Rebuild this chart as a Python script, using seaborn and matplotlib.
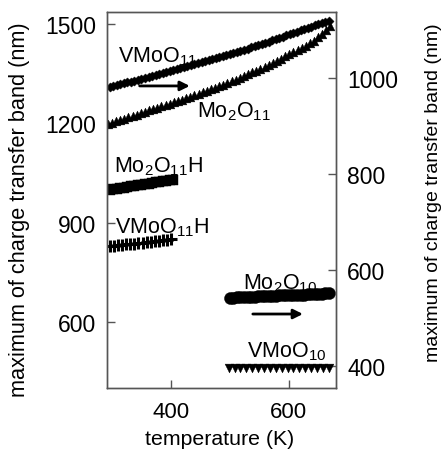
import matplotlib
matplotlib.use("Agg")
import matplotlib.pyplot as plt
import seaborn as sns

sns.set_style("ticks")
plt.rcParams['font.family'] = ['Liberation Sans', 'DejaVu Sans']
plt.rcParams['mathtext.fontset'] = 'custom'
plt.rcParams['mathtext.rm'] = 'Liberation Sans'
plt.rcParams['mathtext.it'] = 'Liberation Sans'
plt.rcParams['text.color'] = 'black'

# VMoO11 (diamonds, left axis)
vmoo11_t = [296, 302, 308, 314, 320, 326, 332, 338, 344, 350, 356, 362, 368, 374, 380, 386,
            392, 398, 404, 410, 416, 422, 428, 434, 440, 446, 452, 458, 464, 470, 476, 482,
            488, 494, 500, 506, 512, 518, 524, 530, 536, 542, 548, 554, 560, 566, 572, 578,
            584, 590, 596, 602, 608, 614, 620, 626, 632, 638, 644, 650, 656, 662, 668]
vmoo11_nm = [1310, 1313, 1315, 1318, 1321, 1324, 1326, 1329, 1332, 1335, 1338, 1341, 1344, 1346, 1349, 1352,
             1355, 1358, 1361, 1364, 1367, 1370, 1373, 1376, 1379, 1382, 1385, 1388, 1391, 1394, 1397, 1400,
             1403, 1406, 1409, 1413, 1416, 1419, 1423, 1426, 1430, 1433, 1437, 1440, 1444, 1447, 1451, 1455,
             1458, 1462, 1466, 1469, 1473, 1477, 1481, 1484, 1488, 1492, 1496, 1499, 1503, 1507, 1510]

# Mo2O11 (up triangles, left axis)
mo2o11_t = [293, 300, 307, 314, 321, 328, 335, 342, 349, 356, 363, 370, 377, 384, 391, 398,
            405, 412, 419, 426, 433, 440, 447, 454, 461, 468, 475, 482, 489, 496, 503, 510,
            517, 524, 531, 538, 545, 552, 559, 566, 573, 580, 587, 594, 601, 608, 615, 622,
            629, 636, 643, 650, 657, 664, 670]
mo2o11_nm = [1198, 1202, 1206, 1210, 1214, 1218, 1222, 1226, 1230, 1234, 1239, 1243, 1247, 1251, 1255, 1259,
             1264, 1268, 1272, 1277, 1281, 1285, 1290, 1294, 1299, 1303, 1308, 1312, 1317, 1322, 1327, 1332,
             1337, 1343, 1348, 1354, 1359, 1365, 1371, 1377, 1383, 1389, 1395, 1402, 1408, 1415, 1421, 1428,
             1435, 1442, 1450, 1460, 1471, 1483, 1495]

# Mo2O11H (squares, left axis)
mo2o11h_t = [296, 302, 308, 314, 320, 326, 332, 338, 344, 350, 356, 362, 368, 374, 380, 386, 392, 398, 404]
mo2o11h_nm = [999, 1001, 1003, 1004, 1006, 1008, 1010, 1011, 1013, 1015, 1016, 1018, 1020, 1022, 1023, 1025,
              1027, 1028, 1030]

# VMoO11H (plus, left axis)
vmoo11h_t = [296, 303, 310, 317, 324, 331, 338, 345, 352, 359, 366, 373, 380, 387, 394, 401]
vmoo11h_nm = [829, 830, 832, 833, 834, 836, 837, 839, 840, 841, 843, 844, 846, 847, 848, 850]

# Mo2O10 (circles, right axis)
mo2o10_t = [500, 506, 512, 518, 524, 530, 536, 542, 548, 554, 560, 566, 572, 578, 584, 590,
            596, 602, 608, 614, 620, 626, 632, 638, 644, 650, 656, 662, 668]
mo2o10_nm = [542, 542, 543, 543, 543, 544, 544, 544, 545, 545, 545, 546, 546, 546, 547, 547,
             548, 548, 548, 549, 549, 549, 550, 550, 550, 551, 551, 552, 552]

# VMoO10 (down triangles, right axis)
vmoo10_t = [498, 508, 518, 528, 538, 548, 558, 568, 578, 588, 598, 608, 618, 628, 638, 648, 658, 668]
vmoo10_nm = [396, 396, 396, 396, 396, 396, 396, 396, 396, 396, 396, 396, 396, 397, 397, 397, 397, 397]

fig = plt.figure(figsize=(4.42, 4.52), dpi=100)
ax = fig.add_axes([0.242, 0.139, 0.518, 0.832])
ax2 = ax.twinx()

kw = dict(color='black', edgecolor='black', legend=False)
sns.scatterplot(x=vmoo11_t, y=vmoo11_nm, marker='D', s=22, linewidth=0.3, ax=ax, **kw)
sns.scatterplot(x=mo2o11_t, y=mo2o11_nm, marker='^', s=40, linewidth=0.3, ax=ax, **kw)
sns.scatterplot(x=mo2o11h_t, y=mo2o11h_nm, marker='s', s=45, linewidth=0.3, ax=ax, **kw)
sns.scatterplot(x=vmoo11h_t, y=vmoo11h_nm, marker='+', s=70, linewidth=2.2, ax=ax, color='black', legend=False)
sns.scatterplot(x=mo2o10_t, y=mo2o10_nm, marker='o', s=75, linewidth=0.3, ax=ax2, **kw)
sns.scatterplot(x=vmoo10_t, y=vmoo10_nm, marker='v', s=40, linewidth=0.3, ax=ax2, **kw)

ax.set_xlim(291.5, 680)
ax.set_ylim(400, 1536)
ax2.set_ylim(354, 1137)
ax.set_xticks([400, 600])
ax.set_yticks([600, 900, 1200, 1500])
ax2.set_yticks([400, 600, 800, 1000])

spine_col = '#555555'
for a in (ax, ax2):
    for s in a.spines.values():
        s.set_color(spine_col)
        s.set_linewidth(1.0)
ax.tick_params(axis='y', direction='in', length=6, width=1, color=spine_col, labelcolor='black',
               labelsize=16.5, pad=8, right=False)
ax.tick_params(axis='x', direction='in', length=6, width=1, color=spine_col, labelcolor='black',
               labelsize=16, pad=9)
ax2.tick_params(axis='y', direction='in', length=6, width=1, color=spine_col, labelcolor='black',
                labelsize=16.5, pad=8)

ylab = 'maximum of charge transfer band (nm)'
fig.text(20 / 442, 1 - 210 / 452, ylab, rotation=90, ha='center', va='center', fontsize=15.7)
fig.text(433 / 442, 1 - 193 / 452, ylab, rotation=90, ha='center', va='center', fontsize=14)
fig.text(220 / 442, 1 - 440 / 452, 'temperature (K)', ha='center', va='center', fontsize=15.3)

tfs = 15.5
ax.text(310, 1388, r'VMoO$_{11}$', fontsize=tfs, va='baseline')
ax.text(444, 1222, r'Mo$_2$O$_{11}$', fontsize=tfs, va='baseline')
ax.text(303, 1056, r'Mo$_2$O$_{11}$H', fontsize=tfs, va='baseline')
ax.text(305, 872, r'VMoO$_{11}$H', fontsize=tfs, va='baseline')
ax.text(522, 700, r'Mo$_2$O$_{10}$', fontsize=tfs, va='baseline')
ax.text(529, 497, r'VMoO$_{10}$', fontsize=tfs, va='baseline')

arrow = dict(arrowstyle='-|>', lw=2, color='black', mutation_scale=14, shrinkA=0, shrinkB=0)
ax.annotate('', xy=(432, 1313), xytext=(347, 1313), arrowprops=arrow)
ax.annotate('', xy=(624, 624), xytext=(539, 624), arrowprops=arrow)

fig.savefig('out.png', dpi=100)
